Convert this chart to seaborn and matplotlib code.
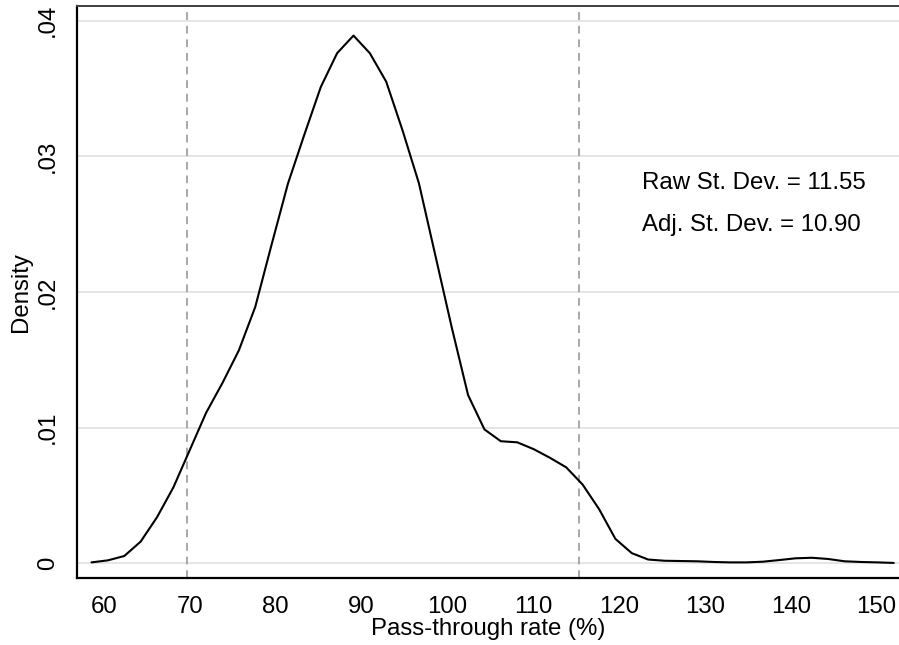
import numpy as np
import pandas as pd
import matplotlib
matplotlib.use("Agg")
import matplotlib.pyplot as plt
import seaborn as sns

# Kernel density estimate, 50 evaluation points
x_start, x_step = 58.53, 1.9077
density = [
    0.00007, 0.00022, 0.00054, 0.00160, 0.00340, 0.00560, 0.00835, 0.01110,
    0.01330, 0.01570, 0.01890, 0.02350, 0.02800, 0.03160, 0.03510, 0.03760,
    0.03890, 0.03760, 0.03550, 0.03190, 0.02800, 0.02270, 0.01740, 0.01240,
    0.00987, 0.00900, 0.00892, 0.00842, 0.00778, 0.00707, 0.00580, 0.00400,
    0.00180, 0.00075, 0.00028, 0.00019, 0.00017, 0.00015, 0.00010, 0.00007,
    0.00007, 0.00012, 0.00024, 0.00037, 0.00041, 0.00032, 0.00015, 0.00010,
    0.00007, 0.00003,
]
rate = [x_start + i * x_step for i in range(len(density))]
cutoffs = [69.6, 115.3]
x_ticks = [60, 70, 80, 90, 100, 110, 120, 130, 140, 150]
y_ticks = [0, 0.01, 0.02, 0.03, 0.04]
y_tick_labels = ["0", ".01", ".02", ".03", ".04"]
notes = ["Raw St. Dev. = 11.55", "Adj. St. Dev. = 10.90"]

df = pd.DataFrame({"rate": rate, "density": density})

sns.set_style("white")
plt.rcParams["font.family"] = ["Liberation Sans", "DejaVu Sans"]
plt.rcParams["font.size"] = 17.3
plt.rcParams["text.color"] = "black"
plt.rcParams["axes.labelcolor"] = "black"
plt.rcParams["xtick.color"] = "black"
plt.rcParams["ytick.color"] = "black"

fig = plt.figure(figsize=(8.99, 6.45), dpi=100)
ax = fig.add_axes([0.0853, 0.1039, 0.9147, 0.8868])

for yt in y_ticks:
    ax.axhline(yt, color="#e3e3e3", lw=1.3, zorder=0)
for c in cutoffs:
    ax.axvline(c, color="#a8a8a8", lw=1.4, ls=(0, (4, 3)), zorder=1)

sns.lineplot(data=df, x="rate", y="density", ax=ax, color="black", lw=1.5, zorder=3)

ax.set_xlim(56.8, 152.62)
ax.set_ylim(-0.00108, 0.04108)
ax.set_xticks(x_ticks)
ax.set_yticks(y_ticks)
ax.set_yticklabels(y_tick_labels, rotation=90, va="center")
ax.tick_params(axis="both", direction="out", length=9, width=1.1,
               labelsize=17.3, pad=4)
ax.set_xlabel("Pass-through rate (%)", fontsize=17.3, labelpad=0)
ax.set_ylabel("Density", fontsize=17.3, labelpad=3)

for side in ["left", "bottom"]:
    ax.spines[side].set_color("black")
    ax.spines[side].set_linewidth(1.6)
ax.spines["top"].set_color("#404040")
ax.spines["top"].set_linewidth(1.4)
ax.spines["right"].set_visible(False)

ax.text(122.63, 0.0280, notes[0], fontsize=17.3, va="center", ha="left")
ax.text(122.63, 0.02493, notes[1], fontsize=17.3, va="center", ha="left")

fig.savefig("out.png", dpi=100)
